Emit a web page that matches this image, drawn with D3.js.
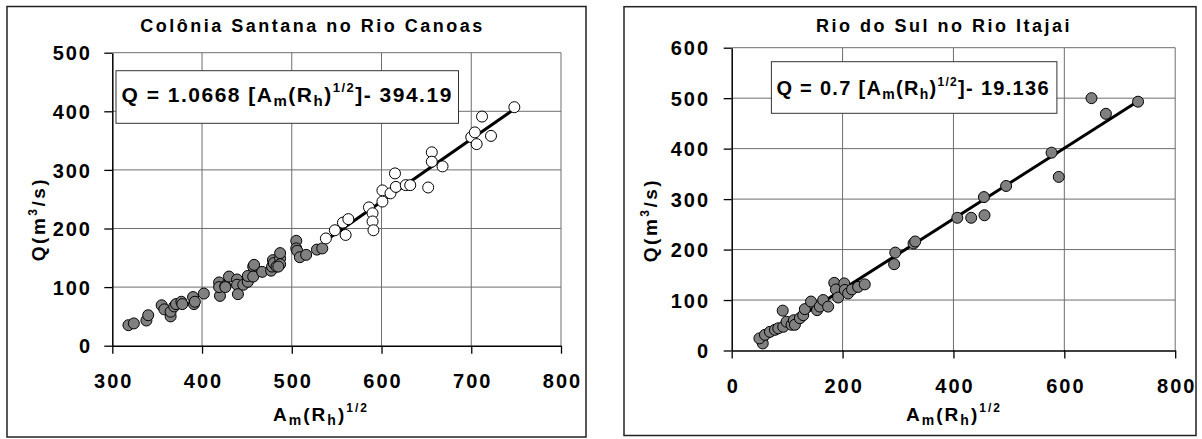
<!DOCTYPE html>
<html><head><meta charset="utf-8">
<script src="https://cdn.jsdelivr.net/npm/d3@7"></script>
<style>
body{margin:0;background:#fff;}
svg{display:block;font-family:"Liberation Sans",Arial,sans-serif;font-weight:bold;}
</style></head>
<body><svg id="c" width="1202" height="439"></svg>
<script>
// ---------- data ----------
const leftTitle = "Colônia Santana no Rio Canoas";
const rightTitle = "Rio do Sul no Rio Itajai";
const leftXTicks = [300, 400, 500, 600, 700, 800];
const leftYTicks = [0, 100, 200, 300, 400, 500];
const rightXTicks = [0, 200, 400, 600, 800];
const rightYTicks = [0, 100, 200, 300, 400, 500, 600];

const leftFilledX = [318,324,338,340,355,358,365,365,369,371,377,378,390,391,392,402,419,420,419,426,426,430,439,439,440,446,451,451,457,457,458,467,477,478,479,480,483,487,487,487,485,505,505,506,509,516,528,534];
const leftFilledY = [35,38,43,52,69,62,50,58,67,71,75,71,83,71,75,89,108,85,100,102,100,118,113,104,88,104,109,119,135,118,138,126,128,135,146,141,135,149,158,139,135,179,166,162,151,155,164,166];
const leftOpenX = [538,548,557,560,563,586,590,590,591,601,601,610,615,616,627,632,652,656,656,668,700,704,706,712,722,748];
const leftOpenY = [183,197,210,189,216,236,226,212,197,265,246,260,294,271,274,274,270,330,314,306,356,364,344,391,358,407];

const rightX = [54,56,50,60,69,78,84,93,92,99,108,112,114,123,129,132,143,154,159,165,174,185,188,192,203,204,210,217,228,240,295,293,328,331,407,432,455,456,495,577,590,649,675,733];
const rightY = [21,14,24,31,37,41,44,47,79,57,51,60,51,64,70,82,97,80,87,100,87,134,121,105,133,120,113,121,126,131,194,171,212,216,263,263,304,268,326,392,344,500,469,493];

const leftFit = {slope: 1.0668, intercept: -394.19, from: 537, to: 747};
const rightFit = {slope: 0.7, intercept: -19.136, from: 50, to: 735};

// ---------- drawing ----------
const svg = d3.select("#c");
const FS_TICK = 20, LS_TICK = 2;

function chart(o){
  const g = svg.append("g");
  g.append("rect").attr("x", o.box[0]).attr("y", o.box[1]).attr("width", o.box[2]-o.box[0]).attr("height", o.box[3]-o.box[1])
    .attr("fill","#fff").attr("stroke","#222").attr("stroke-width",1.5);
  const x = d3.scaleLinear().domain(o.xDomain).range(o.xRange);
  const y = d3.scaleLinear().domain(o.yDomain).range(o.yRange);
  // gridlines
  g.append("g").selectAll("line").data(o.xTicks.slice(1)).join("line")
    .attr("x1", d=>x(d)).attr("x2", d=>x(d)).attr("y1", o.yRange[0]).attr("y2", o.yRange[1])
    .attr("stroke","#6e6e6e").attr("stroke-width",1);
  g.append("g").selectAll("line").data(o.yTicks.slice(1)).join("line")
    .attr("y1", d=>y(d)).attr("y2", d=>y(d)).attr("x1", o.xRange[0]).attr("x2", o.xRange[1])
    .attr("stroke","#6e6e6e").attr("stroke-width",1);
  // axes
  const ax = g.append("g").attr("transform",`translate(0,${o.yRange[0]})`)
    .call(d3.axisBottom(x).tickValues(o.xTicks).tickSize(8).tickPadding(42-8-0.71*FS_TICK).tickSizeOuter(0));
  const ay = g.append("g").attr("transform",`translate(${o.xRange[0]},0)`)
    .call(d3.axisLeft(y).tickValues(o.yTicks).tickSize(8).tickPadding(o.yPad).tickSizeOuter(0));
  [ax, ay].forEach(a=>{
    a.select(".domain").attr("stroke","#000").attr("stroke-width",1.5);
    a.selectAll(".tick line").attr("stroke","#000").attr("stroke-width",1.3);
    a.selectAll("text").attr("font-size",FS_TICK).attr("font-family",'"Liberation Sans",Arial,sans-serif')
      .attr("font-weight","bold").attr("fill","#000").style("letter-spacing",LS_TICK+"px");
  });
  ax.selectAll("text").attr("dx", LS_TICK/2);
  ay.selectAll("text").attr("dy","0.36em");
  // title
  g.append("text").attr("x", o.title[1]).attr("y", o.title[2]).attr("text-anchor","middle")
    .attr("font-size",18).style("letter-spacing","2.5px").text(o.title[0]);
  // x axis title
  const xt = g.append("text").attr("x", o.xTitle[0]).attr("y", o.xTitle[1]).attr("text-anchor","middle")
    .attr("font-size",19).style("letter-spacing","2px");
  amrh(xt, 19);
  // y axis title
  const yt = g.append("text").attr("transform",`translate(${o.yTitle[0]},${o.yTitle[1]}) rotate(-90)`)
    .attr("text-anchor","middle").attr("font-size",19).style("letter-spacing","2.5px");
  yt.append("tspan").text("Q(m");
  yt.append("tspan").attr("font-size",12).attr("dy",-8).text("3");
  yt.append("tspan").attr("dy",8).text("/s)");
  // fit line
  g.append("line").attr("x1", x(o.fit.from)).attr("y1", y(o.fit.slope*o.fit.from+o.fit.intercept))
    .attr("x2", x(o.fit.to)).attr("y2", y(o.fit.slope*o.fit.to+o.fit.intercept))
    .attr("stroke","#000").attr("stroke-width",3);
  // points
  o.series.forEach(s=>{
    g.append("g").selectAll("circle").data(s.xs.map((v,i)=>[v,s.ys[i]])).join("circle")
      .attr("cx", d=>x(d[0])).attr("cy", d=>y(d[1])).attr("r",5.5)
      .attr("fill", s.fill).attr("stroke","#000").attr("stroke-width",1);
  });
  // equation box
  g.append("rect").attr("x",o.eqBox[0]).attr("y",o.eqBox[1]).attr("width",o.eqBox[2]-o.eqBox[0]).attr("height",o.eqBox[3]-o.eqBox[1])
    .attr("fill","#fff").attr("stroke","#333").attr("stroke-width",1);
  const et = g.append("text").attr("x",o.eqText[0]).attr("y",o.eqText[1]).attr("font-size",o.eqFs).style("letter-spacing",o.eqLs+"px");
  et.append("tspan").text(o.eqPrefix + " [");
  const up = amrh(et, o.eqFs);
  et.append("tspan").attr("dy", up).text("]- " + o.eqSuffix);
}
function amrh(t, fs){
  const sub = Math.round(fs*0.72), sup = Math.round(fs*0.62);
  t.append("tspan").text("A");
  t.append("tspan").attr("font-size",sub).attr("dy",fs*0.22).text("m");
  t.append("tspan").attr("dy",-fs*0.22).text("(R");
  t.append("tspan").attr("font-size",sub).attr("dy",fs*0.22).text("h");
  t.append("tspan").attr("dy",-fs*0.22).text(")");
  t.append("tspan").attr("font-size",sup).attr("dy",-fs*0.45).text("1/2");
  return fs*0.45;
}

chart({
  box:[7,6.5,586,437],
  xDomain:[300,800], xRange:[112.3,561],
  yDomain:[0,500], yRange:[345.7,52.7],
  xTicks:leftXTicks, yTicks:leftYTicks, yPad: 22.3-8-LS_TICK,
  title:[leftTitle,312.5,31.5],
  xTitle:[321,420.5], yTitle:[45,219],
  fit:leftFit,
  series:[{xs:leftFilledX, ys:leftFilledY, fill:"#808080"},{xs:leftOpenX, ys:leftOpenY, fill:"#fff"}],
  eqBox:[116,70.7,458.5,123.3], eqText:[121.5,101.7], eqPrefix:"Q = 1.0668", eqSuffix:"394.19", eqFs:21, eqLs:1.5
});
chart({
  box:[624,6.7,1196,435.5],
  xDomain:[0,800], xRange:[731.7,1175.2],
  yDomain:[0,600], yRange:[350.5,47.7],
  xTicks:rightXTicks, yTicks:rightYTicks, yPad: 731.7-708-8-LS_TICK,
  title:[rightTitle,944,31.5],
  xTitle:[954,420.5], yTitle:[657,220],
  fit:rightFit,
  series:[{xs:rightX, ys:rightY, fill:"#808080"}],
  eqBox:[771.4,61.7,1056.9,113.3], eqText:[776.4,95], eqPrefix:"Q = 0.7", eqSuffix:"19.136", eqFs:20, eqLs:1.3
});
</script></body></html>
